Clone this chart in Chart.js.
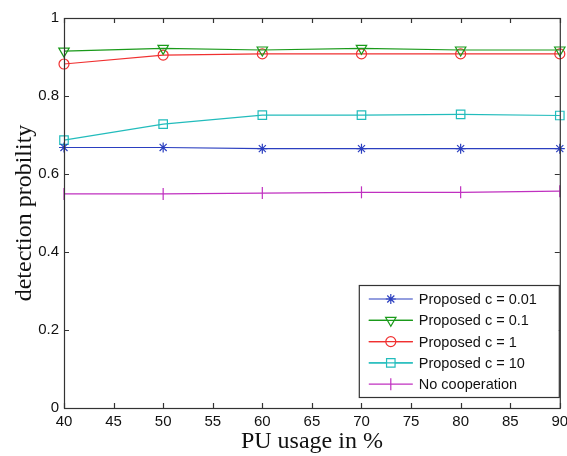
<!DOCTYPE html>
<html>
<head>
<meta charset="utf-8">
<script src="https://cdn.jsdelivr.net/npm/chart.js@4"></script>
<style>
  body { margin: 0; background: #fff; }
  #wrap { width: 567px; height: 456px; }
</style>
</head>
<body>
<div id="wrap"><canvas id="chart" width="567" height="456"></canvas></div>
<script>
const puUsage = [40, 50, 60, 70, 80, 90];
const proposed001 = [0.668, 0.668, 0.665, 0.665, 0.665, 0.665];
const proposed01 = [0.915, 0.922, 0.918, 0.922, 0.918, 0.918];
const proposed1 = [0.882, 0.905, 0.908, 0.908, 0.908, 0.908];
const proposed10 = [0.687, 0.728, 0.751, 0.751, 0.753, 0.750];
const noCooperation = [0.549, 0.549, 0.551, 0.553, 0.553, 0.556];
const xTicks = [40, 45, 50, 55, 60, 65, 70, 75, 80, 85, 90];
const yTicks = [0, 0.2, 0.4, 0.6, 0.8, 1];

const seriesList = [
    { label: 'Proposed c = 0.01', data: proposed001, color: '#2b3fc0', style: 'star', radius: 5, rotation: 0 },
    { label: 'Proposed c = 0.1', data: proposed01, color: '#1a9a1a', style: 'triangle', radius: 6, rotation: 180 },
    { label: 'Proposed c = 1', data: proposed1, color: '#f03030', style: 'circle', radius: 5, rotation: 0 },
    { label: 'Proposed c = 10', data: proposed10, color: '#22bcbc', style: 'rect', radius: 6, rotation: 0 },
    { label: 'No cooperation', data: noCooperation, color: '#c030c0', style: 'line', radius: 6, rotation: 90 }
];

// MATLAB style frame: full box with inward ticks
const framePlugin = {
    id: 'frame',
    afterDatasetsDraw(chart) {
        const ctx = chart.ctx;
        const a = chart.chartArea;
        const xs = chart.scales.x, ys = chart.scales.y;
        ctx.save();
        ctx.strokeStyle = '#333';
        ctx.lineWidth = 1.2;
        ctx.strokeRect(a.left + 0.5, a.top + 0.5, a.right - a.left, a.bottom - a.top);
        ctx.beginPath();
        xTicks.forEach(v => {
            const px = Math.round(xs.getPixelForValue(v)) + 0.5;
            ctx.moveTo(px, a.bottom); ctx.lineTo(px, a.bottom - 5);
            ctx.moveTo(px, a.top); ctx.lineTo(px, a.top + 5);
        });
        yTicks.forEach(v => {
            const py = Math.round(ys.getPixelForValue(v)) + 0.5;
            ctx.moveTo(a.left, py); ctx.lineTo(a.left + 5, py);
            ctx.moveTo(a.right, py); ctx.lineTo(a.right - 5, py);
        });
        ctx.stroke();
        ctx.restore();
    }
};

// legend box inside the plot, bottom right
const legendPlugin = {
    id: 'boxLegend',
    afterDraw(chart) {
        const ctx = chart.ctx;
        const a = chart.chartArea;
        const boxW = 200, boxH = 112;
        const bx = a.right - boxW - 1, by = a.bottom - 11 - boxH;
        ctx.save();
        ctx.fillStyle = '#fff';
        ctx.fillRect(bx, by, boxW, boxH);
        ctx.strokeStyle = '#333';
        ctx.lineWidth = 1.2;
        ctx.strokeRect(bx + 0.5, by + 0.5, boxW, boxH);
        ctx.font = '14.5px "Liberation Sans", Arial, sans-serif';
        ctx.textBaseline = 'middle';
        seriesList.forEach((s, i) => {
            const y = by + 14 + i * 21.3;
            ctx.strokeStyle = s.color;
            ctx.lineWidth = 1.2;
            ctx.beginPath();
            ctx.moveTo(bx + 10, y); ctx.lineTo(bx + 54, y);
            ctx.stroke();
            ctx.fillStyle = '#fff';
            Chart.helpers.drawPoint(ctx, { pointStyle: s.style, radius: s.radius, rotation: s.rotation, borderWidth: 1.2 }, bx + 32, y);
            if (s.style !== 'star' && s.style !== 'line') {
                ctx.beginPath();
                ctx.moveTo(bx + 10, y); ctx.lineTo(bx + 54, y);
                ctx.stroke();
            }
            ctx.fillStyle = '#111';
            ctx.fillText(s.label, bx + 60, y + 1);
        });
        ctx.restore();
    }
};

new Chart(document.getElementById('chart'), {
    type: 'line',
    data: {
        datasets: seriesList.map(s => ({
            label: s.label,
            data: puUsage.map((x, i) => ({ x: x, y: s.data[i] })),
            borderColor: s.color,
            backgroundColor: 'rgba(0,0,0,0)',
            pointBorderColor: s.color,
            pointBackgroundColor: 'rgba(0,0,0,0)',
            pointStyle: s.style,
            pointRadius: s.radius,
            pointRotation: s.rotation,
            pointBorderWidth: 1.2,
            borderWidth: 1.2,
            tension: 0,
            fill: false,
            clip: false
        }))
    },
    options: {
        responsive: false,
        animation: false,
        layout: { padding: { top: 18, right: 6, left: 0, bottom: 0 } },
        plugins: {
            legend: { display: false },
            tooltip: { enabled: false }
        },
        scales: {
            x: {
                type: 'linear',
                min: 40,
                max: 90,
                afterFit(scale) {
                    scale.height = 48;
                    scale.paddingLeft = 0;
                    scale.paddingRight = 0;
                },
                afterBuildTicks(scale) { scale.ticks = xTicks.map(v => ({ value: v })); },
                grid: { display: false, drawTicks: false },
                border: { display: false },
                ticks: {
                    color: '#111',
                    padding: 5,
                    maxRotation: 0,
                    font: { family: '"Liberation Sans", Arial, sans-serif', size: 15 }
                },
                title: {
                    display: true,
                    text: 'PU usage in %',
                    color: '#111',
                    padding: { top: 0, bottom: 0 },
                    font: { family: '"Liberation Serif", "Times New Roman", serif', size: 24 }
                }
            },
            y: {
                min: 0,
                max: 1,
                afterFit(scale) { scale.width = 64; },
                afterBuildTicks(scale) { scale.ticks = yTicks.map(v => ({ value: v })); },
                grid: { display: false, drawTicks: false },
                border: { display: false },
                ticks: {
                    color: '#111',
                    padding: 5,
                    font: { family: '"Liberation Sans", Arial, sans-serif', size: 15 },
                    callback: v => String(Math.round(v * 10) / 10)
                },
                title: {
                    display: true,
                    text: 'detection probility',
                    color: '#111',
                    padding: { top: 10, bottom: 4 },
                    font: { family: '"Liberation Serif", "Times New Roman", serif', size: 24 }
                }
            }
        }
    },
    plugins: [framePlugin, legendPlugin]
});
</script>
</body>
</html>
